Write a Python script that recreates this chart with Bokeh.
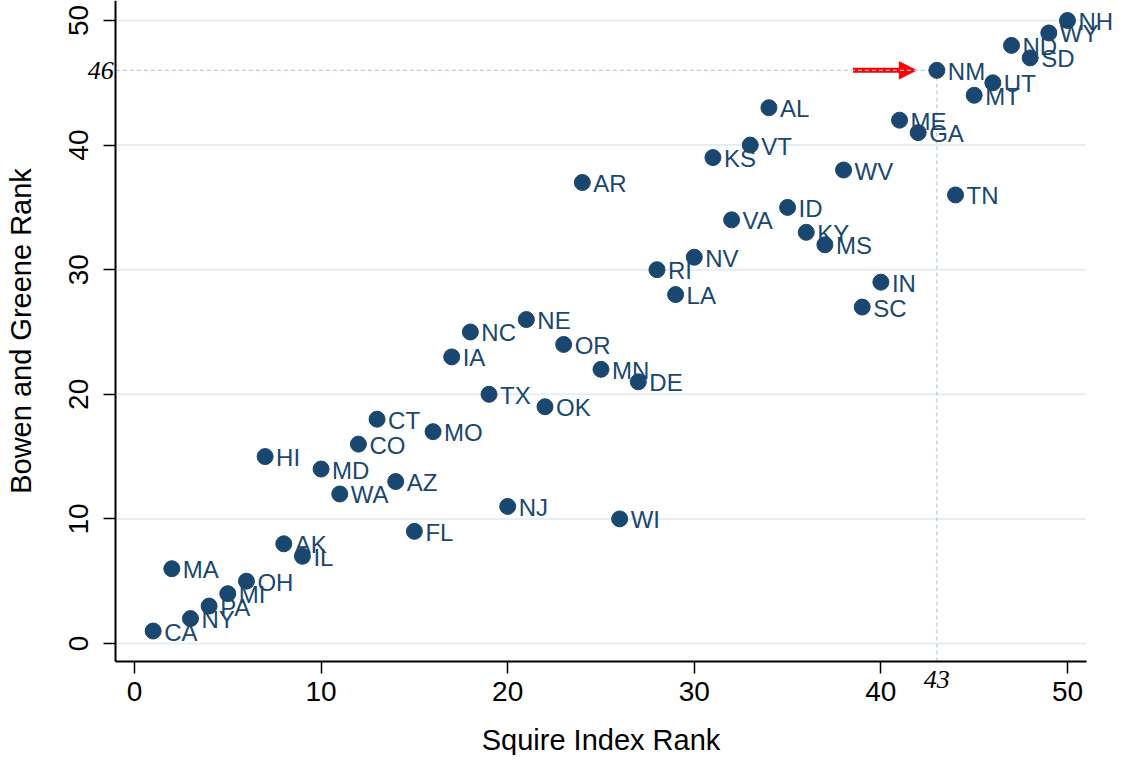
from bokeh.plotting import figure
from bokeh.models import ColumnDataSource, LabelSet, Label, Arrow, NormalHead, Range1d, FixedTicker
from bokeh.core.properties import value
from bokeh.embed import file_html
from bokeh.resources import INLINE

states = ["CA", "MA", "NY", "PA", "MI", "OH", "HI", "AK", "IL", "MD",
          "WA", "CO", "CT", "AZ", "FL", "MO", "IA", "NC", "TX", "NJ",
          "NE", "OK", "OR", "AR", "MN", "WI", "DE", "RI", "LA", "NV",
          "KS", "VA", "VT", "AL", "ID", "KY", "MS", "WV", "SC", "IN",
          "ME", "GA", "NM", "TN", "MT", "UT", "ND", "SD", "WY", "NH"]
squire_rank = [1, 2, 3, 4, 5, 6, 7, 8, 9, 10,
               11, 12, 13, 14, 15, 16, 17, 18, 19, 20,
               21, 22, 23, 24, 25, 26, 27, 28, 29, 30,
               31, 32, 33, 34, 35, 36, 37, 38, 39, 40,
               41, 42, 43, 44, 45, 46, 47, 48, 49, 50]
bg_rank = [1, 6, 2, 3, 4, 5, 15, 8, 7, 14,
           12, 16, 18, 13, 9, 17, 23, 25, 20, 11,
           26, 19, 24, 37, 22, 10, 21, 30, 28, 31,
           39, 34, 40, 43, 35, 33, 32, 38, 27, 29,
           42, 41, 46, 36, 44, 45, 48, 47, 49, 50]
x_ticks = [0, 10, 20, 30, 40, 50]
y_ticks = [0, 10, 20, 30, 40, 50]
ref_x = 43   # NM Squire rank
ref_y = 46   # NM Bowen & Greene rank
arrow_start = 38.5
arrow_end = 41.9

NAVY = "#1a476f"
FONT = "Liberation Sans"

# axis extents (data units) and the full canvas ranges around them
ax_x_lo, ax_x_hi = -1.0, 51.0
ax_y_lo, ax_y_hi = -1.44, 51.6

W, H = 1114, 755
x_start, x_end = -7.181, 52.52
y_start, y_end = -8.99, 51.605

p = figure(width=W, height=H, output_backend="svg", toolbar_location=None,
           x_range=Range1d(x_start, x_end), y_range=Range1d(y_start, y_end),
           min_border=0, min_border_left=0, min_border_right=0,
           min_border_top=0, min_border_bottom=0)
p.outline_line_color = None
p.background_fill_color = "white"
p.border_fill_color = "white"

# grid lines (horizontal only, limited to the axis extent)
p.xgrid.grid_line_color = None
p.ygrid.grid_line_color = None
p.segment(x0=[ax_x_lo] * len(y_ticks), x1=[ax_x_hi] * len(y_ticks), y0=y_ticks, y1=y_ticks,
          line_color="#e6eef1", line_width=2)

for ax, ticks in ((p.xaxis, x_ticks), (p.yaxis, y_ticks)):
    ax.ticker = FixedTicker(ticks=ticks)
    ax.axis_line_color = "black"
    ax.axis_line_width = 2
    ax.major_tick_line_color = "black"
    ax.major_tick_line_width = 1.5
    ax.major_tick_out = 12
    ax.major_tick_in = 0
    ax.minor_tick_line_color = None
    ax.major_label_text_font = FONT
    ax.major_label_text_font_size = "28px"
    ax.major_label_text_color = "black"
    ax.axis_label_text_font = FONT
    ax.axis_label_text_font_size = "29px"
    ax.axis_label_text_font_style = "normal"
    ax.axis_label_text_color = "black"

p.xaxis.fixed_location = ax_y_lo
p.xaxis.bounds = (ax_x_lo, ax_x_hi)
p.yaxis.fixed_location = ax_x_lo
p.yaxis.bounds = (ax_y_lo, ax_y_hi)

p.xaxis.axis_label = "Squire Index Rank"
p.yaxis.axis_label = "Bowen and Greene Rank"
p.yaxis.major_label_orientation = "vertical"
p.xaxis.major_label_standoff = 9
p.yaxis.major_label_standoff = 16
p.xaxis.axis_label_standoff = 19
p.yaxis.axis_label_standoff = 29

# arrow (drawn under the reference line)
p.add_layout(Arrow(end=NormalHead(size=17, fill_color="red", line_color="red"),
                   x_start=arrow_start, y_start=ref_y, x_end=arrow_end, y_end=ref_y,
                   line_color="red", line_width=5, level="underlay"))

# reference lines
p.segment(x0=[ax_x_lo, ref_x], y0=[ref_y, ax_y_lo], x1=[ref_x, ref_x], y1=[ref_y, ref_y],
          line_color="#b9c9e6", line_width=1.2, line_dash="4 3")

src = ColumnDataSource(dict(x=squire_rank, y=bg_rank, st=states))
p.scatter("x", "y", source=src, size=16, fill_color=NAVY, line_color=NAVY)

p.add_layout(LabelSet(x="x", y="y", text="st", source=src, x_offset=11, y_offset=-1,
                      text_baseline="middle", text_align="left",
                      text_font=value(FONT), text_font_size="24px", text_color=NAVY))

p.add_layout(Label(x=ax_x_lo, y=ref_y, x_offset=-2, text=str(ref_y), text_align="right",
                   text_baseline="middle", text_font="Liberation Serif",
                   text_font_style="italic", text_font_size="26px", text_color="black"))
p.add_layout(Label(x=ref_x, y=-2.2, text=str(ref_x), text_align="center",
                   text_baseline="top", text_font="Liberation Serif",
                   text_font_style="italic", text_font_size="26px", text_color="black"))

open("out.html", "w").write(file_html(p, INLINE))
